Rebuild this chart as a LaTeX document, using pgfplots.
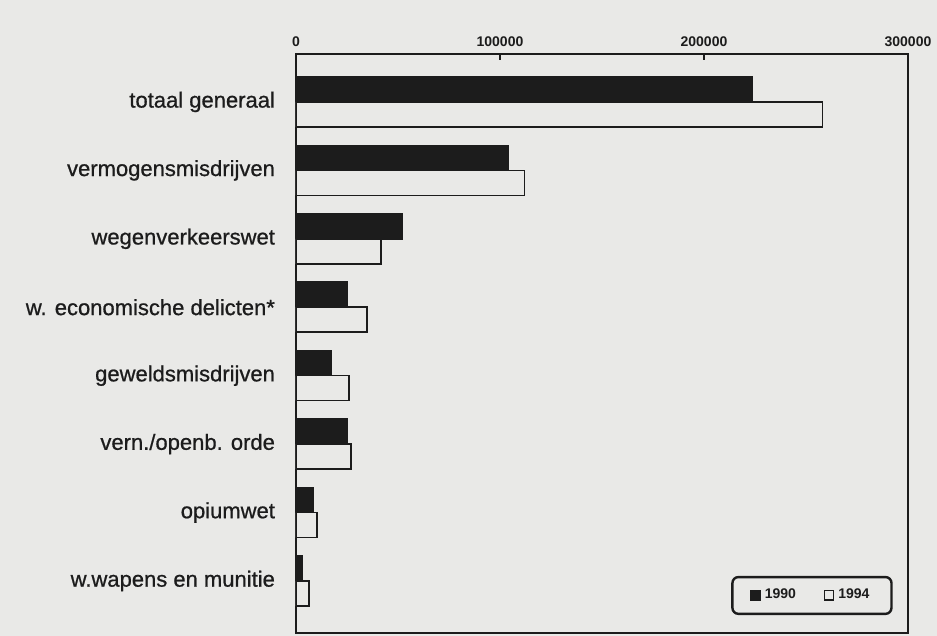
\documentclass[border=0pt]{standalone}
\usepackage{pgfplots}
\pgfplotsset{compat=1.18}
\usepackage{fontspec}
\setmainfont{Liberation Sans}
\newfontfamily\boldish[FakeBold=0.8]{Liberation Sans}
\usetikzlibrary{backgrounds}
\definecolor{bgc}{RGB}{233,233,231}
\definecolor{ink}{RGB}{28,28,28}
\begin{document}
\begin{tikzpicture}[x=0.5pt,y=0.5pt,show background rectangle,inner frame sep=0pt,background rectangle/.style={fill=bgc,draw=none}]
\useasboundingbox (0,0) rectangle (937,636);
\begin{axis}[
  at={(148pt,1.5pt)}, anchor=south west,
  scale only axis, width=306pt, height=289.5pt,
  xmin=0, xmax=300000, ymin=-0.76, ymax=7.70,
  axis line style={ink, line width=1.2pt},
  xtick={0,100000,200000,300000},
  xticklabel pos=right, xtick pos=right, tick align=inside,
  major tick length=3pt,
  xtick style={ink, line width=0.8pt},
  scaled x ticks=false,
  xticklabel style={font=\fontsize{7}{8}\selectfont\bfseries, text=ink, /pgf/number format/fixed, /pgf/number format/1000 sep={}, /pgf/number format/assume math mode=true},
  ytick={0,1,2,3,4,5,6,7},
  yticklabels={w.wapens en munitie, opiumwet, vern./openb. orde, geweldsmisdrijven, w. economische delicten*, wegenverkeerswet, vermogensmisdrijven, totaal generaal},
  yticklabel style={font=\fontsize{11}{12}\selectfont\boldish, text=ink, xshift=-4pt},
  ytick style={draw=none},
  xbar, bar width=0.365,
  legend columns=2,
  legend style={at={(rel axis cs:0.975,0.031)}, anchor=south east, rounded corners=3pt, draw=ink, line width=1.2pt, fill=bgc, font=\fontsize{7}{8}\selectfont\bfseries, text=ink, inner xsep=9pt, inner ysep=4pt, /tikz/every even column/.append style={column sep=12pt}},
  legend image code/.code={\draw[#1, sharp corners, line width=0.6pt] (0pt,-2.3pt) rectangle (4.6pt,2.3pt);},
]
\addplot[fill=ink, draw=ink, line width=0.8pt, bar shift=0.1825] coordinates {
 (223500,7) (104000,6) (52000,5) (25000,4) (17200,3) (25000,2) (8300,1) (3000,0)};
\addplot[fill=bgc, draw=ink, line width=0.8pt, bar shift=-0.1825] coordinates {
 (258000,7) (112000,6) (41700,5) (34800,4) (26000,3) (27000,2) (10300,1) (6400,0)};
\legend{1990,1994}
\end{axis}
\end{tikzpicture}
\end{document}
